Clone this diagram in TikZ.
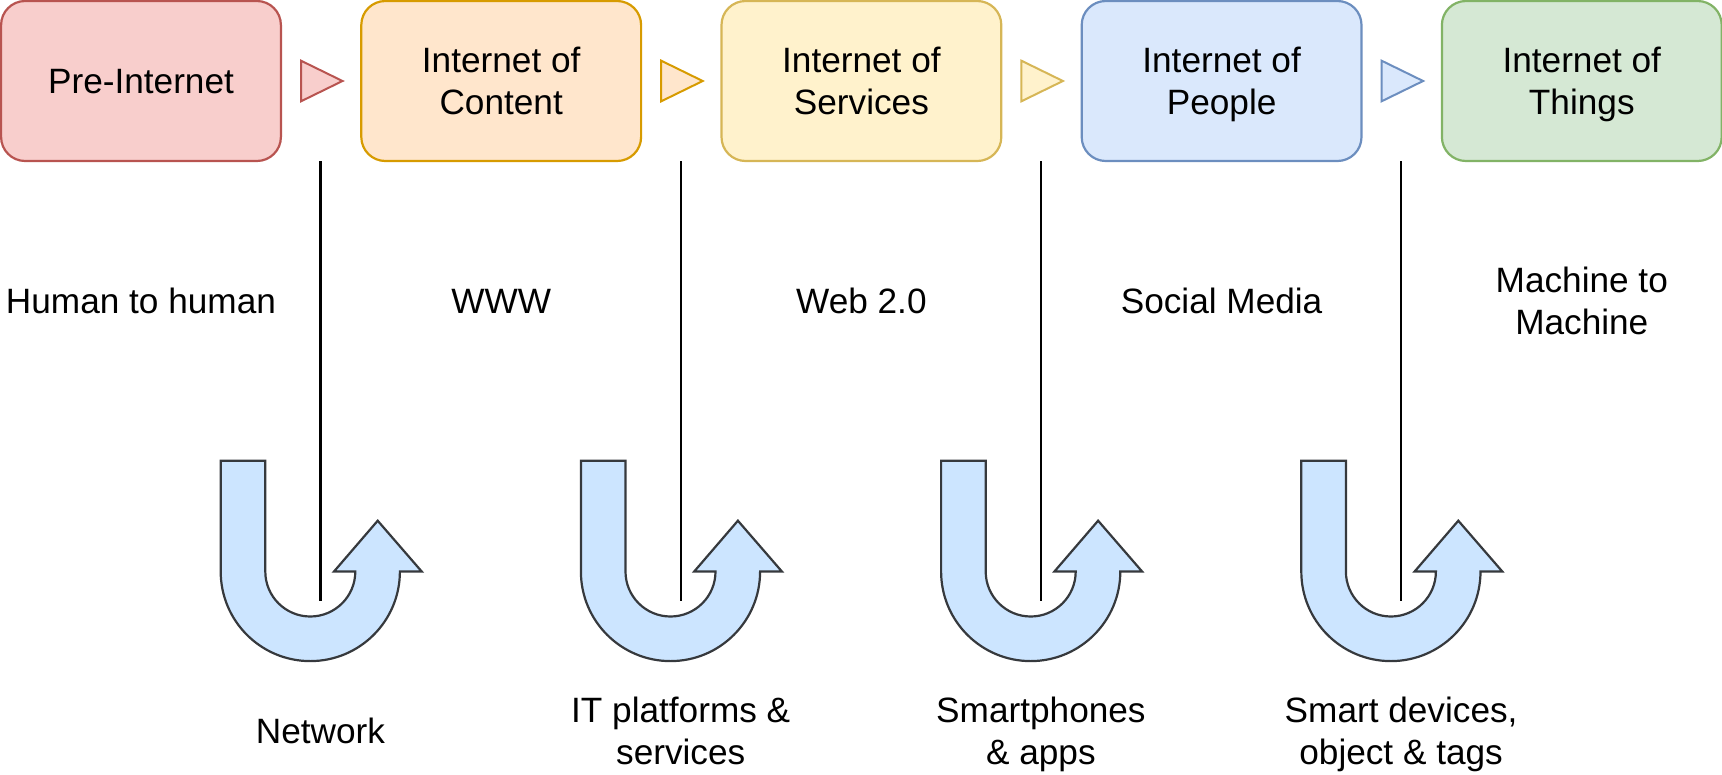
\documentclass[tikz,border=0pt]{standalone}
\usepackage{fontspec}
\setmainfont{Liberation Sans}
\definecolor{redfill}{HTML}{F8CECC}
\definecolor{redline}{HTML}{B85450}
\definecolor{orafill}{HTML}{FFE6CC}
\definecolor{oraline}{HTML}{D79B00}
\definecolor{yelfill}{HTML}{FFF2CC}
\definecolor{yelline}{HTML}{D6B656}
\definecolor{blufill}{HTML}{DAE8FC}
\definecolor{bluline}{HTML}{6C8EBF}
\definecolor{grefill}{HTML}{D5E8D4}
\definecolor{greline}{HTML}{82B366}
\definecolor{ufill}{HTML}{CCE5FF}
\definecolor{uline}{HTML}{36393D}
\begin{document}
\begin{tikzpicture}[x=1pt,y=1pt,
  lbl/.style={font=\fontsize{35.2}{42.2}\selectfont, align=center, inner sep=0pt, text depth=0pt},
  stage/.style={lbl, draw, rounded corners=24pt, line width=2.2pt, minimum width=279.8pt, minimum height=160pt},
  tri/.style={line width=2pt, line join=miter},
  uarrow/.style={fill=ufill, draw=uline, line width=2.2pt, line join=miter},
  vline/.style={line width=2.2pt, black}]
\useasboundingbox (0,0) rectangle (1722,-774);
% stage boxes
\node[stage, fill=redfill, draw=redline] (s0) at (141,-81) {Pre-Internet};
\node[stage, fill=orafill, draw=oraline] (s1) at (501.2,-81) {Internet of\\Content};
\node[stage, fill=yelfill, draw=yelline] (s2) at (861.4,-81) {Internet of\\Services};
\node[stage, fill=blufill, draw=bluline] (s3) at (1221.6,-81) {Internet of\\People};
\node[stage, fill=grefill, draw=greline] (s4) at (1581.8,-81) {Internet of\\Things};
% triangles
\draw[tri, fill=redfill, draw=redline] ([shift={(19,20.3)}]s0.east) -- ++(41.5,-20.3) -- ++(-41.5,-20.3) -- cycle;
\draw[tri, fill=orafill, draw=oraline] ([shift={(19,20.3)}]s1.east) -- ++(41.5,-20.3) -- ++(-41.5,-20.3) -- cycle;
\draw[tri, fill=yelfill, draw=yelline] ([shift={(19,20.3)}]s2.east) -- ++(41.5,-20.3) -- ++(-41.5,-20.3) -- cycle;
\draw[tri, fill=blufill, draw=bluline] ([shift={(19,20.3)}]s3.east) -- ++(41.5,-20.3) -- ++(-41.5,-20.3) -- cycle;
% U arrows
\foreach \i in {0,1,2,3}{
  \begin{scope}[xshift=360.2*\i]
    \draw[uarrow] (220.7,-460.7) -- (265.3,-460.7) -- (265.3,-571.5)
      arc[start angle=180, end angle=360, radius=45]
      -- (334,-571.5) -- (377.7,-520.7) -- (421.7,-571.5) -- (399.9,-571.5)
      arc[start angle=0, end angle=-180, radius=89.6] -- cycle;
  \end{scope}
}
% vertical lines
\foreach \i in {1,2,3,4}{
  \coordinate (t\i) at ({320.5+360.2*(\i-1)},-161.1);
  \coordinate (b\i) at ({320.5+360.2*(\i-1)},-600.7);
  \draw[vline] (t\i) -- (b\i);
}
% middle labels
\node[lbl] (m0) at (141,-301) {Human to human};
\node[lbl] (m1) at (501.2,-301) {WWW};
\node[lbl] (m2) at (861.4,-301) {Web 2.0};
\node[lbl] (m3) at (1221.6,-301) {Social Media};
\node[lbl] (m4) at (1581.8,-301) {Machine to\\Machine};
% bottom labels
\node[lbl] (n1) at (320.5,-731) {Network};
\node[lbl] (n2) at (680.7,-731) {IT platforms \&\\services};
\node[lbl] (n3) at (1040.9,-731) {Smartphones\\\& apps};
\node[lbl] (n4) at (1401.1,-731) {Smart devices,\\object \& tags};
\end{tikzpicture}
\end{document}
